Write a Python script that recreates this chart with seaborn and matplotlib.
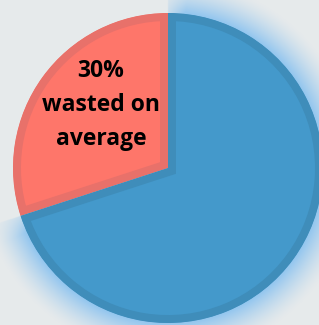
import numpy as np
import matplotlib
matplotlib.use("Agg")
import matplotlib.pyplot as plt
import seaborn as sns

labels = ["Wasted", "Used"]
values = [30, 70]
colors = ["#fe766a", "#4499cb"]
edge_colors = ["#e8716a", "#3f8dba"]
label_text = "30%\nwasted on\naverage"

sns.set_theme(style="white")
plt.rcParams["font.family"] = ["Open Sans", "DejaVu Sans"]

BG = "#e6eaeb"
W, H = 319, 325
fig = plt.figure(figsize=(W / 100, H / 100), dpi=100, facecolor=BG)
ax = fig.add_axes([0, 0, 1, 1])
ax.set_facecolor(BG)

cx, cy, R = 168, 168, 155
ax.set_xlim(-cx / R, (W - cx) / R)
ax.set_ylim(-(H - cy) / R, cy / R)
ax.axis("off")

# glow behind the blue slice
x0, x1 = ax.get_xlim()
y0, y1 = ax.get_ylim()
gx = np.linspace(x0, x1, W * 2)
gy = np.linspace(y1, y0, H * 2)
X, Y = np.meshgrid(gx, gy)
D = np.hypot(X, Y)
ang = (np.degrees(np.arctan2(Y, X))) % 360
start = 90 + 360 * values[0] / sum(values)  # 198
rel = (ang - start) % 360
span = 360 - (start - 90)
amask = np.clip(np.minimum(rel, span - rel) / 10 + 0.35, 0, 1)
amask = np.where(rel > span, 0.0, amask)
glow = np.clip(1 - (D - 1.0) / 0.23, 0, 1) ** 1.5
glow = np.where(D < 1.0, 1.0, glow) * amask
img = np.zeros(X.shape + (4,))
img[..., 0] = 145 / 255
img[..., 1] = 198 / 255
img[..., 2] = 240 / 255
img[..., 3] = glow
ax.imshow(img, extent=[x0, x1, y0, y1], zorder=0, interpolation="bilinear", aspect="auto")

wedges, _ = ax.pie(values, colors=colors, startangle=90, counterclock=True,
                   radius=1.0, wedgeprops=dict(linewidth=11.5))
for w, ec in zip(wedges, edge_colors):
    w.set_edgecolor(ec)
    w.set_clip_on(True)
    w.set_clip_path(w)
    w.set_zorder(2)
ax.set_xlim(-cx / R, (W - cx) / R)
ax.set_ylim(-(H - cy) / R, cy / R)
ax.set_aspect("auto")

ax.text((101 - cx) / R, (cy - 105) / R, label_text, ha="center", va="center",
        fontsize=16.5, fontweight="bold", color="black", linespacing=1.55, zorder=5)

fig.savefig("out.png", dpi=100, facecolor=BG)
